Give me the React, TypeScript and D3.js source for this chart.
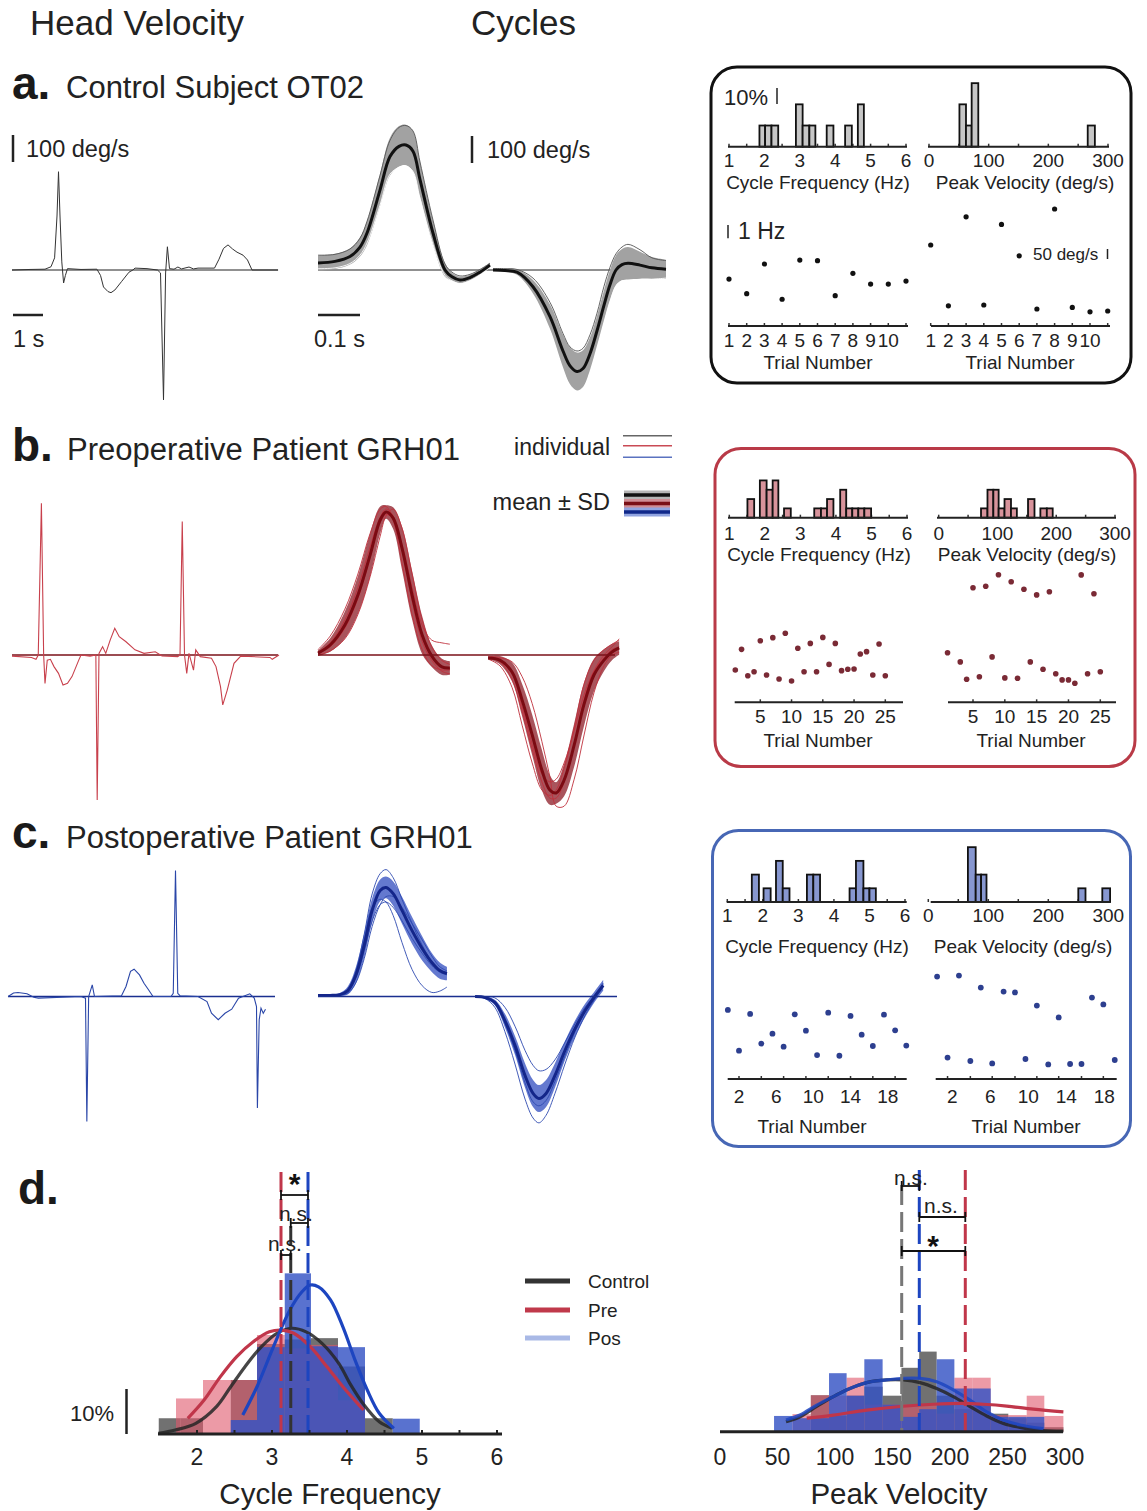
import React from 'react';
import * as d3 from 'd3';

type Pt = [number, number];
type Bin = [number, number, number];

const FONT = '"Liberation Sans", Arial, Helvetica, sans-serif';

// ---------- raw head velocity traces: [time (s), velocity (deg/s)]
const rawControl: Pt[] = [[0,0],[0.6,2],[1.1,3],[1.3,12],[1.42,45],[1.5,200],[1.55,364],[1.6,200],[1.66,30],[1.72,-48],[1.78,-20],[1.85,5],[2.3,2],[2.83,3],[2.95,-20],[3.05,-63],[3.2,-80],[3.3,-84],[3.43,-74],[3.65,-43],[3.9,-8],[4.03,0],[4.1,7],[4.5,5],[4.85,0],[4.95,-11],[5.05,-481],[5.12,-11],[5.18,86],[5.25,5],[5.4,3],[5.53,11],[5.65,4],[5.9,11],[6.05,4],[6.2,7],[6.75,7],[6.9,40],[7.05,80],[7.2,93],[7.35,78],[7.5,66],[7.7,55],[7.85,37],[8.0,0],[8.87,0]];
const rawPre: Pt[] = [[0,-4],[0.65,-9],[0.8,-16],[0.875,0],[0.98,562],[1.055,0],[1.1,-105],[1.175,-19],[1.28,-16],[1.4,-43],[1.55,-68],[1.7,-111],[1.85,-105],[2.0,-80],[2.225,-19],[2.3,0],[2.6,-4],[2.795,0],[2.84,-537],[2.9,6],[3.02,31],[3.125,6],[3.275,56],[3.425,99],[3.575,68],[3.8,49],[4.1,19],[4.4,6],[4.775,12],[5.0,-4],[5.525,-6],[5.6,0],[5.675,494],[5.75,0],[5.825,-68],[5.9,6],[6.05,-56],[6.125,19],[6.275,-6],[6.65,-12],[6.8,-43],[6.95,-117],[7.025,-185],[7.175,-130],[7.4,-31],[7.625,-4],[8.6,-9],[8.675,-16],[8.9,0]];
const rawPost: Pt[] = [[-0.13,0],[0.05,13],[0.2,15],[0.5,10],[0.725,-3],[0.875,-6],[2.3,0],[2.45,-6],[2.495,-463],[2.555,0],[2.675,43],[2.75,0],[3.65,3],[3.8,37],[3.95,93],[4.07,101],[4.25,80],[4.4,49],[4.55,25],[4.7,0],[5.3,0],[5.375,12],[5.45,467],[5.525,12],[5.6,3],[6.2,0],[6.5,-19],[6.65,-62],[6.875,-86],[7.1,-62],[7.325,-47],[7.55,-6],[7.925,10],[8.075,-6],[8.15,-37],[8.18,-413],[8.24,-86],[8.3,-43],[8.375,-62],[8.45,-47]];

// ---------- cycles: time (s), mean, SD and individual cycles (deg/s)
const ctrlT1 = [0,0.0405,0.0762,0.1,0.1167,0.1476,0.1714,0.1929,0.2095,0.2262,0.2429,0.2738,0.3024,0.319,0.3381,0.3619,0.3857,0.4095];
const ctrlMean1 = [26,32,50,85,137,296,420,458,463,440,335,137,0,-25,-37,-28,-8,18];
const ctrlSd1 = [28,28,30,35,45,60,70,75,75,75,65,45,25,15,12,10,10,10];
const ctrlInd1 = [
  [55,58,78,118,180,350,480,528,535,515,400,185,22,-8,-22,-16,2,25],
  [5,8,24,55,100,240,355,380,385,365,265,95,-20,-40,-50,-40,-18,10],
];
const ctrlT2 = [0.4167,0.4452,0.4738,0.5119,0.5524,0.5833,0.6,0.6167,0.631,0.6476,0.6643,0.681,0.6952,0.7095,0.7238,0.7381,0.7667,0.7952,0.8286];
const ctrlMean2 = [0,-2,-8,-62,-173,-300,-355,-376,-365,-310,-225,-130,-55,0,20,25,18,8,3];
const ctrlSd2 = [3,5,10,25,45,60,68,70,68,60,55,55,55,55,58,60,50,40,35];
const ctrlInd2 = [
  [5,5,2,-30,-120,-235,-285,-300,-290,-240,-160,-60,10,60,85,95,75,45,35],
  [-4,-10,-25,-100,-230,-375,-430,-460,-445,-385,-300,-200,-120,-60,-40,-40,-40,-35,-30],
];

const preT1 = [0,0.029,0.064,0.095,0.124,0.148,0.162,0.179,0.2,0.224,0.248,0.271,0.295,0.314];
const preMean1 = [7,37,111,222,370,500,530,507,396,222,74,-4,-44,-48];
const preSd1 = [10,25,50,70,80,50,25,40,80,90,70,40,30,25];
const preInd1 = [
  [20,70,170,300,450,540,550,500,340,150,20,-40,-55,-55],
  [0,15,60,150,290,440,515,540,470,300,130,30,-20,-35],
  [5,30,100,210,360,490,520,505,410,250,110,55,45,40],
  [10,45,130,250,400,510,540,515,390,200,50,-20,-60,-70],
];
const preT2 = [0.405,0.433,0.462,0.486,0.51,0.533,0.552,0.567,0.586,0.61,0.633,0.657,0.681,0.7,0.717];
const preMean2 = [-11,-19,-63,-167,-296,-426,-500,-511,-463,-333,-185,-74,-19,11,26];
const preSd2 = [5,15,35,60,75,75,55,40,60,80,80,60,40,30,25];
const preInd2 = [
  [-15,-40,-120,-260,-400,-500,-520,-500,-420,-270,-110,-20,20,40,55],
  [-5,-10,-25,-80,-180,-320,-450,-560,-560,-460,-300,-140,-40,0,10],
  [-10,-20,-70,-190,-330,-440,-470,-460,-400,-280,-150,-60,-10,20,30],
  [-8,-25,-90,-210,-350,-470,-530,-530,-470,-330,-170,-60,0,30,60],
];

const postT1 = [0,0.029,0.052,0.071,0.09,0.11,0.129,0.148,0.162,0.179,0.2,0.224,0.248,0.271,0.29,0.307];
const postMean1 = [4,4,7,22,78,189,319,393,404,381,319,244,178,126,96,85];
const postSd1 = [4,4,6,15,30,45,45,40,40,45,50,50,45,35,30,25];
const postInd1 = [
  [4,4,8,25,95,230,380,455,470,440,360,270,190,130,100,85],
  [4,4,6,20,85,210,330,360,350,300,200,100,40,15,20,35],
  [4,4,5,12,50,140,260,340,370,370,330,270,210,150,110,95],
  [4,4,6,18,70,170,280,340,350,330,280,215,160,115,90,80],
];
const postT2 = [0.374,0.398,0.421,0.445,0.469,0.493,0.512,0.526,0.543,0.564,0.588,0.612,0.636,0.657,0.679];
const postMean2 = [0,-4,-22,-89,-181,-293,-359,-378,-359,-293,-200,-119,-52,-4,41];
const postSd2 = [2,4,10,25,35,45,50,50,50,45,35,30,25,20,20];
const postInd2 = [
  [0,-8,-40,-130,-250,-380,-450,-468,-440,-360,-250,-150,-70,-15,35],
  [0,0,-5,-40,-110,-200,-255,-275,-270,-235,-170,-100,-40,0,45],
  [0,-4,-25,-100,-200,-320,-390,-405,-385,-315,-220,-130,-55,-5,50],
];

// ---------- per-subject histograms: [bin start, bin end, % of cycles]
const freqBinsCtrl: Bin[] = [[1.86,2.02,9.09],[2.02,2.2,9.09],[2.2,2.39,9.09],[2.89,3.08,18.18],[3.08,3.27,9.09],[3.27,3.44,9.09],[3.76,3.95,9.09],[4.28,4.47,9.09],[4.64,4.81,18.18]];
const velBinsCtrl: Bin[] = [[51,62,18.18],[62,71.5,9.09],[71.5,82.6,27.27],[266,278,9.09]];
const freqBinsPre: Bin[] = [[1.51,1.7,8],[1.86,2.05,16],[2.05,2.22,12],[2.22,2.38,16],[2.54,2.73,4],[3.39,3.58,4],[3.58,3.75,4],[3.75,3.93,8],[4.12,4.29,12],[4.29,4.46,4],[4.46,4.63,4],[4.63,4.8,4],[4.8,4.99,4]];
const velBinsPre: Bin[] = [[72,83,4],[83,93,12],[93,102,12],[102,112,4],[112,123,8],[123,133,4],[152,163,8],[173,184,4],[184,194,4]];
const freqBinsPost: Bin[] = [[1.69,1.89,11.76],[2.02,2.22,5.88],[2.37,2.56,17.65],[2.56,2.75,5.88],[3.24,3.42,11.76],[3.42,3.61,11.76],[4.44,4.62,5.88],[4.62,4.83,17.65],[4.83,5.0,5.88],[5.0,5.18,5.88]];
const velBinsPost: Bin[] = [[66,79,23.53],[79,88,11.76],[88,97,11.76],[250,262,5.88],[290,303,5.88]];

// ---------- per-trial values
const trialsCtrl = [1,2,3,4,5,6,7,8,9,10,11];
const freqTrialCtrl = [3.38,2.28,4.51,1.86,4.81,4.76,2.13,3.81,3.0,3.0,3.23];
const velTrialCtrl = [405,101,546,105,508,351,85,585,93,71,75];
const trialsPreF = [1,2,3,4,5,6,7,8,9,10,11,12,13,14,15,16,17,18,19,20,21,22,23,24,25];
const freqTrialPre = [2.43,3.98,2.0,2.3,4.63,2.05,4.86,1.75,5.19,1.6,4.06,2.3,4.43,2.3,4.88,2.85,4.43,2.38,2.48,2.5,3.63,3.81,2.05,4.38,2.0];
const trialsPreV = [1,3,4,5,6,7,8,9,10,11,12,13,14,15,16,17,18,19,20,21,22,23,24,25];
const velTrialPre = [248,202,115,573,128,580,227,638,122,603,120,565,202,537,165,553,143,112,112,95,637,143,543,153];
const trialsPostF = [0.8,2.0,3.2,4.4,5.6,6.8,8.0,9.2,10.4,11.6,12.8,14.0,15.2,16.4,17.6,18.8,20.0];
const freqTrialPost = [5.19,2.13,4.89,2.66,3.41,2.43,4.86,3.63,1.8,4.99,1.75,4.74,3.33,2.48,4.84,3.66,2.51];
const trialsPostV = [0.4,1.5,2.7,3.9,5.0,6.2,7.4,8.6,9.7,10.9,12.1,13.2,14.4,15.6,16.7,17.9,19.1];
const velTrialPost = [512,107,517,90,457,78,437,433,100,367,73,308,75,75,407,373,95];

// ---------- d. group distributions (% of cycles)
const freqCtrl: Bin[] = [[1.49,1.78,3.5],[1.78,2.08,3.5],[2.45,2.8,12],[2.8,3.17,20],[3.17,3.52,21],[3.52,3.88,21.3],[3.88,4.24,15],[4.24,4.61,3.5]];
const freqPre: Bin[] = [[1.72,2.08,7.9],[2.08,2.45,12],[2.45,2.8,12],[2.8,3.17,22],[3.17,3.52,19],[3.52,3.88,19.8],[3.88,4.24,7.5]];
const freqPos: Bin[] = [[2.45,2.8,3.1],[2.8,3.17,19.3],[3.17,3.52,35.7],[3.52,3.88,19.5],[3.88,4.24,19.3],[4.61,4.97,3.4]];
const velCtrl: Bin[] = [[79,94.8,8.1],[94.8,110.1,3.5],[110.1,125.5,8],[125.5,141.4,10],[141.4,157.8,8],[157.8,173.2,14.2],[173.2,188.4,17.8],[188.4,203.8,8],[203.8,219.7,5],[219.7,235.4,6],[235.4,250.7,4],[250.7,266.7,3],[266.7,282,2],[282,298.6,1]];
const velPre: Bin[] = [[63,79,3.9],[79,94.8,8.1],[94.8,110.1,8],[110.1,125.5,12],[125.5,141.4,6],[141.4,157.8,6],[157.8,173.2,6],[173.2,188.4,6],[188.4,203.8,4],[203.8,219.7,12],[219.7,235.4,12],[235.4,250.7,3.7],[250.7,266.7,3.7],[266.7,282,8],[282,298.6,3.5]];
const velPos: Bin[] = [[47,63,3.5],[63,79,3.0],[79,94.8,3.0],[94.8,110.1,13],[110.1,125.5,8],[125.5,141.4,16.1],[141.4,157.8,6],[157.8,173.2,3.3],[173.2,188.4,5],[188.4,203.8,16.1],[203.8,219.7,9.6],[219.7,235.4,9.6],[235.4,250.7,3.3],[250.7,266.7,3.3],[266.7,282,3.3]];

const freqFitCtrl: Pt[] = [[1.485,0.15],[1.71,0.89],[1.985,2.37],[2.26,6.07],[2.45,10.5],[2.64,14.96],[2.86,19.4],[3.07,22.4],[3.26,23.5],[3.455,22.7],[3.67,20.1],[3.89,15.7],[4.05,10.9],[4.22,6.6],[4.43,2.7],[4.6,1.26]];
const freqFitPre: Pt[] = [[1.877,3.48],[2.095,7.56],[2.31,12.7],[2.53,17.2],[2.75,20.5],[2.965,22.7],[3.13,23.1],[3.29,22.4],[3.51,19.4],[3.73,15.0],[3.945,10.5],[4.22,5.33]];
const freqFitPos: Pt[] = [[2.61,4.22],[2.8,10.5],[3.02,19.4],[3.24,27.6],[3.4,31.6],[3.51,33.1],[3.62,32.7],[3.78,29.8],[3.945,23.8],[4.11,16.3],[4.27,9.78],[4.43,4.6],[4.625,1.26]];
const velFitCtrl: Pt[] = [[57.4,2.2],[69.6,3.3],[84.1,5.6],[98.6,7.8],[113,9.6],[127.5,10.9],[144.9,11.5],[159.4,11.5],[173.9,10.9],[188.4,9.6],[202.9,7.8],[217.4,5.6],[231.9,3.5],[246.4,1.85],[260.9,0.96],[281.2,0.22],[298.6,0.15]];
const velFitPos: Pt[] = [[57.4,2.6],[69.6,3.7],[84.1,5.9],[98.6,7.8],[113,9.6],[127.5,10.9],[144.9,11.5],[159.4,11.85],[173.9,11.85],[188.4,11.1],[202.9,9.3],[217.4,7.0],[231.9,4.4],[246.4,2.6],[260.9,1.5],[281.2,0.67]];
const velFitPre: Pt[] = [[75.4,3.0],[98.6,3.7],[127.5,4.8],[156.5,5.6],[185.5,6.1],[211.6,6.3],[229,6.1],[249.3,5.7],[272.5,5.0],[298.6,4.4]];

const freqMeans = { ctrl: 3.25, pre: 3.12, pos: 3.48 };
const velMeans = { ctrl: 158, pos: 173.3, pre: 213.3 };

const freqTickLabels = [2, 3, 4, 5, 6];
const velTickLabels = [0, 50, 100, 150, 200, 250, 300];

const C = {
  ctrlBar: '#3a3a3a', preBar: '#e0566a', posBar: '#3553c4',
  ctrlLine: '#262626', preLine: '#c0364a', posLine: '#1d45c0',
};

// ------------------------------------------------------------------
function Cycle(p: {
  t: number[]; mean: number[]; sd: number[]; inds: number[][];
  x: d3.ScaleLinear<number, number>; y: d3.ScaleLinear<number, number>;
  band: string; ind: string[]; meanColor: string; indW?: number;
}) {
  const curve = d3.curveCatmullRom.alpha(0.5);
  const area = d3.area<number>()
    .x((_, i) => p.x(p.t[i]))
    .y0((v, i) => p.y(v - p.sd[i]))
    .y1((v, i) => p.y(v + p.sd[i]))
    .curve(curve);
  const line = d3.line<number>().x((_, i) => p.x(p.t[i])).y(v => p.y(v)).curve(curve);
  return (
    <g>
      <path d={area(p.mean) || ''} fill={p.band} />
      {p.inds.map((d, k) => (
        <path key={k} d={line(d) || ''} fill="none" stroke={p.ind[k % p.ind.length]} strokeWidth={p.indW || 0.9} />
      ))}
      <path d={line(p.mean) || ''} fill="none" stroke={p.meanColor} strokeWidth={3} />
    </g>
  );
}

interface BoxCfg {
  frame: [number, number, number, number]; stroke: string;
  histFill: string; dot: string; dotR: number;
  histY: number; freqPx: [number, number]; velPx: [number, number];
  freqAxis: [number, number]; velAxis: [number, number];
  histLabelY: number; histTitleY: number; histTitleX: [number, number];
  freqBins: Bin[]; velBins: Bin[];
  scatY: number; freqZeroY: number; velZeroY: number;
  trialDom: [number, number]; trialPxL: [number, number]; trialPxR: [number, number];
  scatAxisL: [number, number]; scatAxisR: [number, number];
  freqTrials: number[]; freqVals: number[]; velTrials: number[]; velVals: number[];
  trialLabels: number[]; tickL: number[]; tickR: number[];
  trialLabelY: number; trialTitleY: number; trialTitleX: [number, number];
}

function Box({ c, children }: { c: BoxCfg; children?: React.ReactNode }) {
  const fx = d3.scaleLinear().domain([1, 6]).range(c.freqPx);
  const vx = d3.scaleLinear().domain([0, 300]).range(c.velPx);
  const hy = d3.scaleLinear().domain([0, 10]).range([c.histY, c.histY - 23.3]);
  const tl = d3.scaleLinear().domain(c.trialDom).range(c.trialPxL);
  const tr = d3.scaleLinear().domain(c.trialDom).range(c.trialPxR);
  const fy = d3.scaleLinear().domain([0, 1]).range([c.freqZeroY, c.freqZeroY - 13.3]);
  const py = d3.scaleLinear().domain([0, 50]).range([c.velZeroY, c.velZeroY - 10]);
  const [bx, by, bw, bh] = c.frame;
  const txt = { fontSize: 19, fill: '#222', textAnchor: 'middle' as const, dominantBaseline: 'central' as const };
  const bar = (b: Bin, sx: d3.ScaleLinear<number, number>, k: string) => (
    <rect key={k} x={sx(b[0])} y={hy(b[2])} width={sx(b[1]) - sx(b[0])} height={c.histY - hy(b[2])}
      fill={c.histFill} stroke="#111" strokeWidth={1.8} />
  );
  return (
    <g>
      <rect x={bx} y={by} width={bw} height={bh} rx={26} fill="none" stroke={c.stroke} strokeWidth={3} />
      {d3.range(1, 6.01, 0.5).map(v => <line key={'ft' + v} x1={fx(v)} x2={fx(v)} y1={c.histY} y2={c.histY - 3} stroke="#333" strokeWidth={1.5} />)}
      {d3.range(0, 301, 50).map(v => <line key={'vt' + v} x1={vx(v)} x2={vx(v)} y1={c.histY} y2={c.histY - 3} stroke="#333" strokeWidth={1.5} />)}
      {c.freqBins.map((b, i) => bar(b, fx, 'fb' + i))}
      {c.velBins.map((b, i) => bar(b, vx, 'vb' + i))}
      <line x1={c.freqAxis[0]} x2={c.freqAxis[1]} y1={c.histY} y2={c.histY} stroke="#222" strokeWidth={2} />
      <line x1={c.velAxis[0]} x2={c.velAxis[1]} y1={c.histY} y2={c.histY} stroke="#222" strokeWidth={2} />
      {[1, 2, 3, 4, 5, 6].map(v => <text key={'fl' + v} x={fx(v)} y={c.histLabelY} {...txt}>{v}</text>)}
      {[0, 100, 200, 300].map(v => <text key={'vl' + v} x={vx(v)} y={c.histLabelY} {...txt}>{v}</text>)}
      <text x={c.histTitleX[0]} y={c.histTitleY} {...txt}>Cycle Frequency (Hz)</text>
      <text x={c.histTitleX[1]} y={c.histTitleY} {...txt}>Peak Velocity (deg/s)</text>

      {c.tickL.map((v, i) => <line key={'tl' + i} x1={tl(v)} x2={tl(v)} y1={c.scatY} y2={c.scatY - 3} stroke="#333" strokeWidth={1.5} />)}
      {c.tickR.map((v, i) => <line key={'tr' + i} x1={tr(v)} x2={tr(v)} y1={c.scatY} y2={c.scatY - 3} stroke="#333" strokeWidth={1.5} />)}
      <line x1={c.scatAxisL[0]} x2={c.scatAxisL[1]} y1={c.scatY} y2={c.scatY} stroke="#222" strokeWidth={2} />
      <line x1={c.scatAxisR[0]} x2={c.scatAxisR[1]} y1={c.scatY} y2={c.scatY} stroke="#222" strokeWidth={2} />
      {c.freqVals.map((v, i) => <circle key={'fp' + i} cx={tl(c.freqTrials[i])} cy={fy(v)} r={c.dotR} fill={c.dot} />)}
      {c.velVals.map((v, i) => <circle key={'vp' + i} cx={tr(c.velTrials[i])} cy={py(v)} r={c.dotR} fill={c.dot} />)}
      {c.trialLabels.map(v => <text key={'ll' + v} x={tl(v)} y={c.trialLabelY} {...txt}>{v}</text>)}
      {c.trialLabels.map(v => <text key={'lr' + v} x={tr(v)} y={c.trialLabelY} {...txt}>{v}</text>)}
      <text x={c.trialTitleX[0]} y={c.trialTitleY} {...txt}>Trial Number</text>
      <text x={c.trialTitleX[1]} y={c.trialTitleY} {...txt}>Trial Number</text>
      {children}
    </g>
  );
}

const boxCtrl: BoxCfg = {
  frame: [711, 67, 420, 316], stroke: '#111', histFill: '#c6c6c6', dot: '#111', dotR: 2.6,
  histY: 146.7, freqPx: [729, 906], velPx: [929, 1108], freqAxis: [728, 907], velAxis: [928, 1109],
  histLabelY: 160, histTitleY: 182, histTitleX: [818, 1025],
  freqBins: freqBinsCtrl, velBins: velBinsCtrl,
  scatY: 326, freqZeroY: 324, velZeroY: 326,
  trialDom: [1, 10], trialPxL: [729, 888.3], trialPxR: [930.7, 1090],
  scatAxisL: [728, 908], scatAxisR: [931, 1110],
  freqTrials: trialsCtrl, freqVals: freqTrialCtrl, velTrials: trialsCtrl, velVals: velTrialCtrl,
  trialLabels: [1, 2, 3, 4, 5, 6, 7, 8, 9, 10], tickL: trialsCtrl, tickR: trialsCtrl,
  trialLabelY: 340, trialTitleY: 362, trialTitleX: [818, 1020],
};
const boxPre: BoxCfg = {
  frame: [715, 448.5, 420, 318], stroke: '#b93a47', histFill: '#d8939b', dot: '#7a2a35', dotR: 2.8,
  histY: 517.7, freqPx: [729.3, 907], velPx: [938.7, 1115], freqAxis: [728, 908], velAxis: [937, 1116],
  histLabelY: 533, histTitleY: 554, histTitleX: [819, 1027],
  freqBins: freqBinsPre, velBins: velBinsPre,
  scatY: 702.3, freqZeroY: 702.3, velZeroY: 702.3,
  trialDom: [5, 25], trialPxL: [760.3, 885.3], trialPxR: [973, 1100.3],
  scatAxisL: [734.7, 903], scatAxisR: [948, 1116],
  freqTrials: trialsPreF, freqVals: freqTrialPre, velTrials: trialsPreV, velVals: velTrialPre,
  trialLabels: [5, 10, 15, 20, 25], tickL: [5, 10, 15, 20, 25], tickR: [5, 10, 15, 20, 25],
  trialLabelY: 716.7, trialTitleY: 740, trialTitleX: [818, 1031],
};
const boxPost: BoxCfg = {
  frame: [712.5, 830.5, 418, 316], stroke: '#4767b5', histFill: '#8797d0', dot: '#2d3f8f', dotR: 2.9,
  histY: 902, freqPx: [727.3, 905], velPx: [928.3, 1108.3], freqAxis: [726.7, 906.7], velAxis: [930.7, 1110],
  histLabelY: 915, histTitleY: 946, histTitleX: [817, 1023],
  freqBins: freqBinsPost, velBins: velBinsPost,
  scatY: 1079, freqZeroY: 1079, velZeroY: 1079,
  trialDom: [2, 18], trialPxL: [739, 887.7], trialPxR: [952.3, 1104.3],
  scatAxisL: [727.7, 906.7], scatAxisR: [935.7, 1116.7],
  freqTrials: trialsPostF, freqVals: freqTrialPost, velTrials: trialsPostV, velVals: velTrialPost,
  trialLabels: [2, 6, 10, 14, 18],
  tickL: trialsPostF.filter((_, i) => i % 2 === 1), tickR: trialsPostV.filter((_, i) => i % 2 === 1),
  trialLabelY: 1096.7, trialTitleY: 1126, trialTitleX: [812, 1026],
};

// ------------------------------------------------------------------
export default function App() {
  const xRaw = d3.scaleLinear().domain([0, 1]).range([12, 42]);
  const xCyc = d3.scaleLinear().domain([0, 0.1]).range([318, 360]);
  const vScale = (base: number) => d3.scaleLinear().domain([0, 100]).range([base, base - 27]);
  const yA = vScale(270), yB = vScale(655), yC = vScale(996.5);
  const raw = (y: d3.ScaleLinear<number, number>) => d3.line<Pt>().x(d => xRaw(d[0])).y(d => y(d[1]));

  // panel d scales
  const xF = d3.scaleLinear().domain([2, 4]).range([197, 347]);
  const yF = d3.scaleLinear().domain([0, 10]).range([1434, 1389]);
  const xV = d3.scaleLinear().domain([0, 300]).range([720, 1065]);
  const yV = d3.scaleLinear().domain([0, 10]).range([1431.7, 1386.7]);
  const fitF = d3.line<Pt>().x(d => xF(d[0])).y(d => yF(d[1])).curve(d3.curveCatmullRom.alpha(0.5));
  const fitV = d3.line<Pt>().x(d => xV(d[0])).y(d => yV(d[1])).curve(d3.curveCatmullRom.alpha(0.5));
  const dBars = (bins: Bin[], sx: d3.ScaleLinear<number, number>, sy: d3.ScaleLinear<number, number>, fill: string, op: number, k: string) =>
    bins.map((b, i) => (
      <rect key={k + i} x={sx(b[0])} y={sy(b[2])} width={sx(b[1]) - sx(b[0])} height={sy(0) - sy(b[2])} fill={fill} fillOpacity={op} />
    ));
  const bracket = (x1: number, x2: number, y: number, k: string) => (
    <g key={k} stroke="#111" strokeWidth={1.8}>
      <line x1={x1} x2={x2} y1={y} y2={y} />
      <line x1={x1} x2={x1} y1={y - 5} y2={y + 5} />
      <line x1={x2} x2={x2} y1={y - 5} y2={y + 5} />
    </g>
  );
  const dash = '20 7';
  const t23 = { fontSize: 23.5, fill: '#222' };
  const head = { fontSize: 31, fill: '#222' };
  const tag = { fontSize: 46, fontWeight: 700, fill: '#1a1a1a' };

  return (
    <div style={{ position: 'absolute', left: 0, top: 0 }}>
      <svg width={1147} height={1511} style={{ display: 'block', fontFamily: FONT }}>
        <rect width={1147} height={1511} fill="#fff" />

        {/* column headers */}
        <text x={30} y={35} fontSize={35} fill="#222">Head Velocity</text>
        <text x={471} y={35} fontSize={35} fill="#222">Cycles</text>

        {/* ---------------- a. control ---------------- */}
        <text x={12} y={99} {...tag}>a.</text>
        <text x={66} y={98} {...head}>Control Subject OT02</text>
        <line x1={13} x2={13} y1={135} y2={135 + (yA(0) - yA(100))} stroke="#222" strokeWidth={2.5} />
        <text x={26} y={157} {...t23}>100 deg/s</text>
        <line x1={13} x2={13 + xRaw(1) - xRaw(0)} y1={315} y2={315} stroke="#222" strokeWidth={2.5} />
        <text x={13} y={347} {...t23}>1 s</text>
        <line x1={12} x2={278} y1={yA(0)} y2={yA(0)} stroke="#222" strokeWidth={1.2} />
        <path d={raw(yA)(rawControl) || ''} fill="none" stroke="#333" strokeWidth={1} />

        <line x1={472} x2={472} y1={136} y2={136 + (yA(0) - yA(100))} stroke="#222" strokeWidth={2.5} />
        <text x={487} y={158} {...t23}>100 deg/s</text>
        <line x1={318} x2={318 + xCyc(0.1) - xCyc(0)} y1={315} y2={315} stroke="#222" strokeWidth={2.5} />
        <text x={314} y={347} {...t23}>0.1 s</text>
        <line x1={318} x2={666} y1={yA(0)} y2={yA(0)} stroke="#222" strokeWidth={1.2} />
        <Cycle t={ctrlT1} mean={ctrlMean1} sd={ctrlSd1} inds={ctrlInd1} x={xCyc} y={yA} band="#a2a2a2" ind={['#555', '#fff']} meanColor="#111" />
        <Cycle t={ctrlT2} mean={ctrlMean2} sd={ctrlSd2} inds={ctrlInd2} x={xCyc} y={yA} band="#a2a2a2" ind={['#555', '#fff']} meanColor="#111" />

        <Box c={boxCtrl}>
          <text x={724} y={97} fontSize={22} fill="#222" dominantBaseline="central">10%</text>
          <line x1={777} x2={777} y1={88} y2={104} stroke="#222" strokeWidth={1.5} />
          <line x1={728} x2={728} y1={225} y2={238.3} stroke="#222" strokeWidth={1.5} />
          <text x={738} y={231} fontSize={23} fill="#222" dominantBaseline="central">1 Hz</text>
          <text x={1033} y={254} fontSize={17} fill="#222" dominantBaseline="central">50 deg/s</text>
          <line x1={1107.5} x2={1107.5} y1={249} y2={259} stroke="#222" strokeWidth={1.5} />
        </Box>

        {/* ---------------- b. preoperative ---------------- */}
        <text x={12} y={461} {...tag}>b.</text>
        <text x={67} y={460} {...head}>Preoperative Patient GRH01</text>
        <line x1={12} x2={278} y1={yB(0)} y2={yB(0)} stroke="#7a1018" strokeWidth={1.5} />
        <path d={raw(yB)(rawPre) || ''} fill="none" stroke="#c8404c" strokeWidth={1.1} />
        <Cycle t={preT1} mean={preMean1} sd={preSd1} inds={preInd1} x={xCyc} y={yB} band="#a9545c" ind={['#c0303c']} meanColor="#7b0a12" />
        <Cycle t={preT2} mean={preMean2} sd={preSd2} inds={preInd2} x={xCyc} y={yB} band="#a9545c" ind={['#c0303c']} meanColor="#7b0a12" />
        <line x1={318} x2={615} y1={yB(0)} y2={yB(0)} stroke="#7a1018" strokeWidth={1.5} />

        {/* legend */}
        <text x={610} y={455} fontSize={23} fill="#222" textAnchor="end">individual</text>
        <line x1={623} x2={672} y1={435.7} y2={435.7} stroke="#666" strokeWidth={1.5} />
        <line x1={623} x2={672} y1={445.7} y2={445.7} stroke="#c94a55" strokeWidth={1.5} />
        <line x1={623} x2={672} y1={457.3} y2={457.3} stroke="#5a72c0" strokeWidth={1.5} />
        <text x={610} y={510} fontSize={23.5} fill="#222" textAnchor="end">mean ± SD</text>
        <rect x={624} y={490.5} width={46} height={9} fill="#b5b5b5" />
        <line x1={624} x2={670} y1={495} y2={495} stroke="#111" strokeWidth={3.5} />
        <rect x={624} y={499} width={46} height={9} fill="#cf8d94" />
        <line x1={624} x2={670} y1={503.5} y2={503.5} stroke="#7a0f16" strokeWidth={3.5} />
        <rect x={624} y={507.5} width={46} height={9} fill="#91a4e0" />
        <line x1={624} x2={670} y1={512} y2={512} stroke="#10288a" strokeWidth={3.5} />

        <Box c={boxPre} />

        {/* ---------------- c. postoperative ---------------- */}
        <text x={12} y={848} {...tag}>c.</text>
        <text x={66} y={848} {...head}>Postoperative Patient GRH01</text>
        <line x1={8} x2={275} y1={yC(0)} y2={yC(0)} stroke="#1a2f8f" strokeWidth={1.5} />
        <path d={raw(yC)(rawPost) || ''} fill="none" stroke="#2a46a8" strokeWidth={1.1} />
        <Cycle t={postT1} mean={postMean1} sd={postSd1} inds={postInd1} x={xCyc} y={yC} band="#6479cf" ind={['#2e49b0']} meanColor="#14268a" />
        <Cycle t={postT2} mean={postMean2} sd={postSd2} inds={postInd2} x={xCyc} y={yC} band="#6479cf" ind={['#2e49b0']} meanColor="#14268a" />
        <line x1={318} x2={617} y1={yC(0)} y2={yC(0)} stroke="#1a2f8f" strokeWidth={1.5} />

        <Box c={boxPost} />

        {/* ---------------- d. group distributions ---------------- */}
        <text x={18} y={1204} {...tag}>d.</text>

        {/* cycle frequency */}
        {dBars(freqCtrl, xF, yF, C.ctrlBar, 0.72, 'fc')}
        {dBars(freqPre, xF, yF, C.preBar, 0.6, 'fp')}
        {dBars(freqPos, xF, yF, C.posBar, 0.82, 'fo')}
        <path d={fitF(freqFitCtrl) || ''} fill="none" stroke={C.ctrlLine} strokeOpacity={0.85} strokeWidth={3.2} />
        <path d={fitF(freqFitPre) || ''} fill="none" stroke={C.preLine} strokeWidth={3.2} />
        <path d={fitF(freqFitPos) || ''} fill="none" stroke={C.posLine} strokeWidth={3.2} />
        <line x1={xF(freqMeans.pre)} x2={xF(freqMeans.pre)} y1={1172} y2={yF(0)} stroke={C.preLine} strokeWidth={3} strokeDasharray={dash} />
        <line x1={xF(freqMeans.ctrl)} x2={xF(freqMeans.ctrl)} y1={1226} y2={yF(0)} stroke="#333" strokeWidth={3} strokeDasharray={dash} />
        <line x1={xF(freqMeans.pos)} x2={xF(freqMeans.pos)} y1={1172} y2={yF(0)} stroke={C.posLine} strokeWidth={3} strokeDasharray={dash} />
        <line x1={158} x2={502} y1={yF(0)} y2={yF(0)} stroke="#222" strokeWidth={3} />
        {d3.range(2, 6.01, 0.5).map(v => <line key={'dt' + v} x1={xF(v)} x2={xF(v)} y1={yF(0)} y2={yF(0) - 4} stroke="#222" strokeWidth={2} />)}
        {freqTickLabels.map(v => <text key={'dl' + v} x={xF(v)} y={1457} fontSize={23} fill="#222" textAnchor="middle" dominantBaseline="central">{v}</text>)}
        <text x={330} y={1493} fontSize={29.5} fill="#222" textAnchor="middle" dominantBaseline="central">Cycle Frequency</text>
        <line x1={126.5} x2={126.5} y1={yF(0)} y2={yF(10)} stroke="#222" strokeWidth={2.5} />
        <text x={114} y={1413} fontSize={22} fill="#222" textAnchor="end" dominantBaseline="central">10%</text>
        {bracket(xF(freqMeans.pre), xF(freqMeans.pos), 1195, 'b1')}
        <text x={(xF(freqMeans.pre) + xF(freqMeans.pos)) / 2} y={1194} fontSize={30} fontWeight={700} fill="#111" textAnchor="middle">*</text>
        {bracket(xF(freqMeans.ctrl), xF(freqMeans.pos), 1223, 'b2')}
        <text x={296} y={1213} fontSize={21} fill="#222" textAnchor="middle" dominantBaseline="central">n.s.</text>
        {bracket(xF(freqMeans.pre), xF(freqMeans.ctrl), 1255, 'b3')}
        <text x={285} y={1243} fontSize={21} fill="#222" textAnchor="middle" dominantBaseline="central">n.s.</text>

        {/* legend */}
        <line x1={525} x2={570} y1={1281} y2={1281} stroke="#333" strokeWidth={5} />
        <text x={588} y={1281} fontSize={19} fill="#222" dominantBaseline="central">Control</text>
        <line x1={525} x2={570} y1={1310} y2={1310} stroke="#c0394a" strokeWidth={5} />
        <text x={588} y={1310} fontSize={19} fill="#222" dominantBaseline="central">Pre</text>
        <line x1={525} x2={570} y1={1338} y2={1338} stroke="#a9b9e6" strokeWidth={5} />
        <text x={588} y={1338} fontSize={19} fill="#222" dominantBaseline="central">Pos</text>

        {/* peak velocity */}
        {dBars(velCtrl, xV, yV, C.ctrlBar, 0.72, 'vc')}
        {dBars(velPre, xV, yV, C.preBar, 0.6, 'vp')}
        {dBars(velPos, xV, yV, C.posBar, 0.82, 'vo')}
        <path d={fitV(velFitCtrl) || ''} fill="none" stroke={C.ctrlLine} strokeOpacity={0.85} strokeWidth={3.2} />
        <path d={fitV(velFitPos) || ''} fill="none" stroke={C.posLine} strokeOpacity={0.85} strokeWidth={3.2} />
        <path d={fitV(velFitPre) || ''} fill="none" stroke={C.preLine} strokeWidth={3.2} />
        <line x1={xV(velMeans.ctrl)} x2={xV(velMeans.ctrl)} y1={1185} y2={yV(0)} stroke="#777" strokeWidth={3} strokeDasharray={dash} />
        <line x1={xV(velMeans.pos)} x2={xV(velMeans.pos)} y1={1170} y2={yV(0)} stroke={C.posLine} strokeWidth={3} strokeDasharray={dash} />
        <line x1={xV(velMeans.pre)} x2={xV(velMeans.pre)} y1={1170} y2={yV(0)} stroke={C.preLine} strokeWidth={3} strokeDasharray={dash} />
        <line x1={720} x2={1063} y1={yV(0)} y2={yV(0)} stroke="#222" strokeWidth={3} />
        {velTickLabels.map(v => <text key={'vl' + v} x={xV(v)} y={1457} fontSize={23} fill="#222" textAnchor="middle" dominantBaseline="central">{v}</text>)}
        <text x={899} y={1493} fontSize={29.5} fill="#222" textAnchor="middle" dominantBaseline="central">Peak Velocity</text>
        {bracket(xV(velMeans.ctrl), xV(velMeans.pos), 1186, 'c1')}
        <text x={911} y={1177} fontSize={21} fill="#222" textAnchor="middle" dominantBaseline="central">n.s.</text>
        {bracket(xV(velMeans.pos), xV(velMeans.pre), 1217, 'c2')}
        <text x={941} y={1205} fontSize={21} fill="#222" textAnchor="middle" dominantBaseline="central">n.s.</text>
        {bracket(xV(velMeans.ctrl), xV(velMeans.pre), 1251, 'c3')}
        <text x={933} y={1256} fontSize={30} fontWeight={700} fill="#111" textAnchor="middle">*</text>
      </svg>
    </div>
  );
}
